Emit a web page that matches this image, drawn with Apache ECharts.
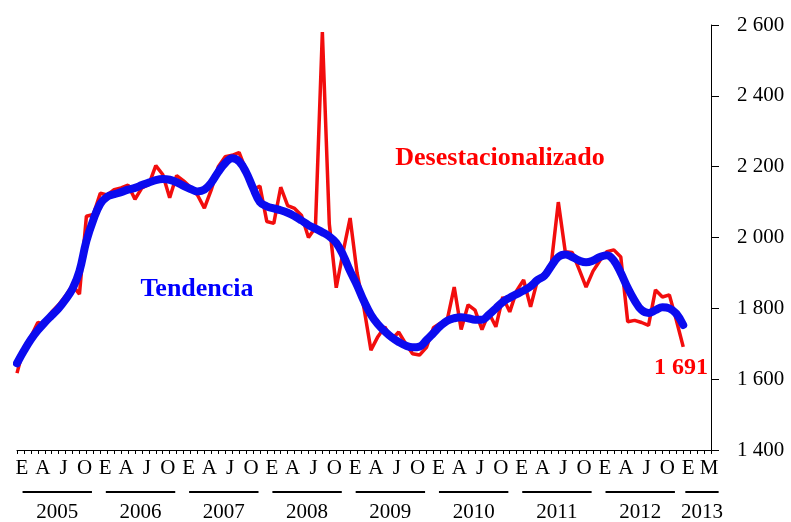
<!DOCTYPE html>
<html>
<head>
<meta charset="utf-8">
<script src="https://cdn.jsdelivr.net/npm/echarts@6/dist/echarts.min.js"></script>
<style>
  html, body { margin: 0; padding: 0; background: #fff; }
  #chart { width: 791px; height: 522px; }
</style>
</head>
<body>
<div id="chart"></div>
<script>
// monthly axis: enero 2005 .. mayo 2013
const firstYear = 2005;
const monthCount = 101;
const quarterLetters = ['E', 'A', 'J', 'O'];
const lastLetter = 'M';
const lastLetterIndex = 99;
const years = ['2005', '2006', '2007', '2008', '2009', '2010', '2011', '2012', '2013'];

// serie desestacionalizada (ene 2005 - ene 2013)
const desestacionalizado = [
  1617, 1690, 1720, 1760, 1755, 1790, 1810, 1835, 1865, 1840, 2060, 2065,
  2125, 2120, 2135, 2140, 2148, 2108, 2140, 2150, 2203, 2178, 2112, 2175,
  2160, 2142, 2120, 2083, 2135, 2200, 2228, 2232, 2240, 2190, 2135, 2145,
  2045, 2040, 2142, 2090, 2082, 2062, 2000, 2028, 2580, 2038, 1858, 1960,
  2055, 1900, 1800, 1682, 1720, 1748, 1712, 1733, 1700, 1672, 1668, 1690,
  1745, 1758, 1768, 1860, 1740, 1810, 1795, 1740, 1787, 1748, 1832, 1790,
  1850, 1880, 1804, 1880, 1900, 1928, 2100, 1960, 1958, 1910, 1860, 1905,
  1935, 1960, 1965, 1945, 1762, 1766, 1760, 1752, 1852, 1832, 1838, 1767,
  1691
];

// tendencia
const tendencia = [
  1645, 1680, 1712, 1738, 1760, 1780, 1800, 1825, 1855, 1905, 1990, 2050,
  2095, 2115, 2122, 2128, 2135, 2140, 2148, 2155, 2162, 2165, 2163, 2156,
  2146, 2137, 2130, 2135, 2155, 2185, 2210, 2224, 2215, 2185, 2140, 2100,
  2088, 2082, 2077, 2070, 2060, 2048, 2035, 2025, 2015, 2003, 1985, 1950,
  1905, 1865, 1820, 1782, 1755, 1735, 1718, 1705, 1695, 1690, 1692, 1710,
  1730, 1750, 1765, 1772, 1775, 1772, 1768, 1768, 1782, 1800, 1818, 1830,
  1840, 1850, 1862, 1880, 1892, 1920, 1945, 1952, 1945, 1935, 1930, 1935,
  1945, 1950, 1935, 1900, 1858, 1822, 1795, 1787, 1795, 1803, 1800, 1785,
  1753
];

const months = [];
for (let i = 0; i < monthCount; i++) {
  const y = firstYear + Math.floor(i / 12);
  months.push(y + '-' + String((i % 12) + 1).padStart(2, '0'));
}

const fmt = (v) => {
  const s = String(Math.round(v));
  return s.length > 3 ? s.slice(0, s.length - 3) + ' ' + s.slice(-3) : s;
};

const serif = '"Liberation Serif", "DejaVu Serif", serif';

const chart = echarts.init(document.getElementById('chart'));

const option = {
  animation: false,
  backgroundColor: '#fff',
  grid: { left: 17, right: 80, top: 25, bottom: 72 },
  xAxis: {
    type: 'category',
    data: months,
    boundaryGap: false,
    axisLine: { lineStyle: { color: '#000', width: 1 } },
    axisTick: { interval: 0, length: 4, lineStyle: { color: '#000' } },
    axisLabel: {
      interval: 0,
      margin: 8,
      color: '#000',
      fontFamily: serif,
      fontSize: 21,
      padding: [0, 0, 0, 10],
      formatter: (value, idx) => {
        if (idx === lastLetterIndex) return lastLetter;
        if (idx > 96 || idx % 3 !== 0) return '';
        return quarterLetters[(idx % 12) / 3];
      }
    },
    splitLine: { show: false }
  },
  yAxis: {
    type: 'value',
    position: 'right',
    min: 1400,
    max: 2600,
    interval: 200,
    axisLine: { show: true, lineStyle: { color: '#000', width: 1 } },
    axisTick: { show: true, length: 8, lineStyle: { color: '#000' } },
    axisLabel: {
      margin: 26,
      color: '#000',
      fontFamily: serif,
      fontSize: 21,
      formatter: fmt
    },
    splitLine: { show: false }
  },
  series: [
    {
      name: 'Desestacionalizado',
      type: 'line',
      data: desestacionalizado,
      symbol: 'none',
      lineStyle: { color: '#f20d0d', width: 3.5 },
      z: 2
    },
    {
      name: 'Tendencia',
      type: 'line',
      data: tendencia,
      symbol: 'none',
      smooth: 0.4,
      lineStyle: { color: '#0b0bef', width: 8, cap: 'round', join: 'round' },
      z: 3
    }
  ]
};

chart.setOption(option);

// year captions with underline bars, positioned through the x axis
const x0 = chart.convertToPixel({ xAxisIndex: 0 }, months[0]);
const x1 = chart.convertToPixel({ xAxisIndex: 0 }, months[1]);
const step = x1 - x0;
const xAt = (i) => x0 + i * step;

const graphics = [];
years.forEach((yr, k) => {
  const a = k * 12 + (k === years.length - 1 ? 0.3 : 0.8);
  const b = k === years.length - 1 ? 101.1 : k * 12 + 10.8;
  const xa = xAt(a), xb = xAt(b);
  graphics.push({
    type: 'line',
    shape: { x1: xa, y1: 492, x2: xb, y2: 492 },
    style: { stroke: '#000', lineWidth: 2 }
  });
  graphics.push({
    type: 'text',
    x: (xa + xb) / 2,
    y: 512,
    style: {
      text: yr, fill: '#000', font: '21px ' + serif,
      align: 'center', verticalAlign: 'middle'
    }
  });
});

graphics.push({
  type: 'text', x: 500, y: 158,
  style: {
    text: 'Desestacionalizado', fill: '#ff0000', font: 'bold 26px ' + serif,
    align: 'center', verticalAlign: 'middle'
  }
});
graphics.push({
  type: 'text', x: 197, y: 289,
  style: {
    text: 'Tendencia', fill: '#0000ff', font: 'bold 26px ' + serif,
    align: 'center', verticalAlign: 'middle'
  }
});
graphics.push({
  type: 'text', x: 681, y: 368,
  style: {
    text: fmt(desestacionalizado[desestacionalizado.length - 1]),
    fill: '#ff0000', font: 'bold 24px ' + serif,
    align: 'center', verticalAlign: 'middle'
  }
});

chart.setOption({ graphic: graphics });
</script>
</body>
</html>
